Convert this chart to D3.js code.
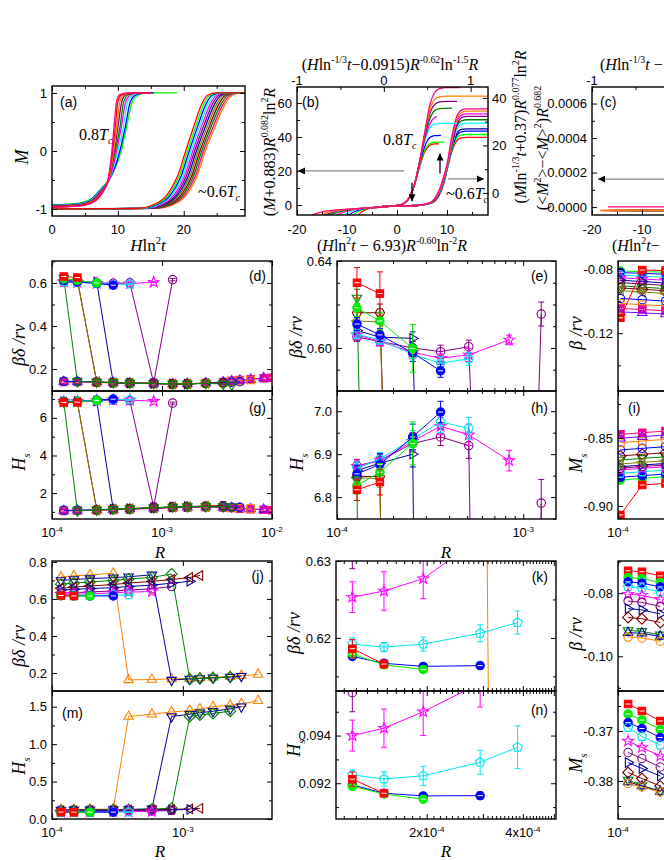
<!DOCTYPE html>
<html><head><meta charset="utf-8"><title>chart</title>
<script src="https://cdn.jsdelivr.net/npm/d3@7/dist/d3.min.js"></script>
<style>html,body{margin:0;padding:0;background:#fff;}svg{display:block;}</style>
</head><body>
<script>
// ===================== DATA =====================
// (a) 0.8Tc family: [H ln^2 t, M] points per curve
const a08Colors=["#ff0080","#ff0000","#ff8000","#800080","#008000","#ff00ff","#00ffff","#0000ff","#00ff00"];
const a08Curves=[
 [[0,-0.97],[4,-0.95],[6,-0.9],[7.5,-0.75],[8.5,-0.5],[9.0,-0.1],[9.4,0.4],[9.8,0.85],[10.3,0.97],[11.5,1],[15,1]],
 [[0,-0.965],[4,-0.945],[6,-0.89],[7.5,-0.73],[8.5,-0.5],[9.1,-0.1],[9.6,0.4],[10.0,0.85],[10.6,0.97],[12,1],[15,1]],
 [[0,-0.96],[4,-0.94],[6,-0.88],[7.5,-0.72],[8.6,-0.5],[9.3,-0.05],[9.8,0.4],[10.3,0.85],[10.9,0.97],[12.3,1],[15,1]],
 [[0,-0.955],[4,-0.935],[6,-0.87],[7.5,-0.7],[8.6,-0.5],[9.4,-0.05],[10.0,0.4],[10.6,0.85],[11.2,0.97],[12.6,1],[15,1]],
 [[0,-0.95],[4,-0.93],[6,-0.86],[7.5,-0.69],[8.6,-0.5],[9.6,0],[10.3,0.4],[10.9,0.85],[11.6,0.97],[13,1],[15,1]],
 [[0,-0.945],[4,-0.92],[6,-0.85],[7.5,-0.67],[8.7,-0.5],[9.8,0],[10.5,0.4],[11.2,0.85],[12.0,0.97],[13.4,1],[15,1]],
 [[0,-0.94],[4,-0.915],[6,-0.84],[7.5,-0.66],[8.7,-0.5],[10.0,0],[10.8,0.4],[11.5,0.85],[12.4,0.97],[13.8,1],[15,1]],
 [[0,-0.935],[4,-0.91],[6,-0.83],[7.5,-0.65],[8.7,-0.5],[10.3,0],[11.1,0.4],[11.9,0.85],[12.8,0.97],[14.2,1],[15.5,1]],
 [[0,-0.93],[4,-0.9],[6,-0.82],[7.5,-0.64],[8.7,-0.48],[10.5,0],[11.3,0.4],[12.2,0.85],[13.2,0.97],[14.6,1],[19,1]]
];
// (a) ~0.6Tc family: shared M levels, H ln^2 t per curve
const a06Levels=[-1,-0.99,-0.93,-0.75,-0.45,0,0.45,0.8,0.96,1,1];
const a06Colors=["#ff0000","#00ff00","#0000ff","#00ffff","#ff00ff","#800080","#0000a0","#808000","#800000","#008000","#ff0080","#ff8000"];
const a06X=[
 [0,13,15.3,17.5,19.0,20.3,21.6,22.7,23.6,25.0,29.3],
 [0,13.27,15.57,17.77,19.27,20.57,21.9,23.02,23.94,25.34,29.3],
 [0,13.54,15.84,18.04,19.54,20.84,22.19,23.35,24.29,25.69,29.3],
 [0,13.81,16.11,18.31,19.81,21.11,22.49,23.67,24.63,26.03,29.3],
 [0,14.08,16.38,18.58,20.08,21.38,22.79,24.0,24.97,26.37,29.3],
 [0,14.35,16.65,18.85,20.35,21.65,23.09,24.32,25.31,26.71,29.3],
 [0,14.62,16.92,19.12,20.62,21.92,23.38,24.64,25.66,27.06,29.3],
 [0,14.89,17.19,19.39,20.89,22.19,23.68,24.97,26.0,27.4,29.3],
 [0,15.16,17.46,19.66,21.16,22.46,23.98,25.29,26.34,27.74,29.3],
 [0,15.43,17.73,19.93,21.43,22.73,24.27,25.62,26.69,28.09,29.3],
 [0,15.7,18.0,20.2,21.7,23.0,24.57,25.94,27.03,28.43,29.3],
 [0,15.97,18.27,20.47,21.97,23.27,24.87,26.26,27.37,28.77,29.3]
];
// (b) 0.8Tc family (left axis)
const b08Colors=["#ff0080","#ff8000","#800080","#008000","#ff00ff","#00ffff","#0000ff","#00ff00","#ff0000"];
const b08Curves=[
 [[-17.5,-6.5],[-15,-4],[-10,-2.5],[-5,-1.6],[0,-0.3],[1.5,1.2],[2.5,4.5],[3.5,12],[4.5,25],[5.5,42],[6.5,58],[7.5,66],[8.5,68.5],[10,69],[12.5,69]],
 [[-16,-6.5],[-13.5,-4],[-9,-2.4],[-5,-1.6],[0,-0.3],[1.5,1.2],[2.5,4.5],[3.5,12],[4.5,25],[5.5,41],[6.5,55],[7.5,62],[8.5,63.6],[10,64],[18.5,64]],
 [[-15,-6.5],[-12.5,-4],[-8.5,-2.3],[-5,-1.6],[0,-0.3],[1.5,1.2],[2.5,4.5],[3.5,12],[4.5,25],[5.5,40],[6.5,53],[7.5,59],[8.5,60.6],[10,61],[12,61]],
 [[-14,-6.5],[-11.5,-4],[-8,-2.2],[-5,-1.6],[0,-0.3],[1.5,1.2],[2.5,4.5],[3.5,12],[4.5,25],[5.5,39],[6.5,50],[7.5,55.5],[8.5,56.7],[11,57]],
 [[-12.5,-6.5],[-10.5,-4],[-7.5,-2.1],[-5,-1.6],[0,-0.3],[1.5,1.2],[2.5,4.5],[3.5,12],[4.5,25],[5.5,38],[6.5,47],[7.3,51],[8,52]],
 [[-11,-6.5],[-9.5,-4],[-7,-2],[-5,-1.6],[0,-0.3],[1.5,1.2],[2.5,4.5],[3.5,12],[4.5,25],[5.5,37],[6.5,45],[7.5,47.6],[9,48],[12,48]],
 [[-10,-6.5],[-8.5,-4],[-6.5,-2],[-5,-1.6],[0,-0.3],[1.5,1.2],[2.5,4.5],[3.5,12],[4.5,24],[5.5,34],[6.5,39.5],[7.5,40.8],[8.8,41]],
 [[-9,-6.5],[-7.8,-4],[-6,-2],[0,-0.3],[1.5,1.2],[2.5,4.5],[3.5,12],[4.5,23],[5.5,32],[6.5,36],[7.5,36.9],[9.5,37]],
 [[-8,-6.5],[-7,-4],[-5.5,-2],[0,-0.3],[1.5,1.2],[2.5,4.5],[3.5,12],[4.5,22],[5.5,31],[6.5,35],[7.5,35.9],[8.4,36]]
];
// (b) ~0.6Tc family (right axis)
const b06Colors=["#ff0080","#ff8000","#ff00ff","#800080","#008000","#00ffff","#0000a0","#0000ff","#00ff00","#ff0000"];
const b06Curves=[
 [[-3,-5.6],[4,-5.3],[6.5,-4.2],[8,-0.8],[9,4.5],[10,12],[11,24],[12,32.5],[13,35],[14,35.4],[18.5,35.4]],
 [[-3,-5.6],[4,-5.3],[6.6,-4.2],[8.1,-0.8],[9.1,4.5],[10.1,12],[11.1,23.5],[12.1,31.8],[13.1,34],[14,34.4],[18.5,34.4]],
 [[-3,-5.6],[4,-5.3],[6.6,-4.2],[8.1,-0.8],[9.1,4.6],[10.1,12.2],[11.1,23],[12.1,30.8],[13,32.9],[14,33.3],[18.5,33.3]],
 [[-3,-5.6],[4,-5.3],[6.7,-4.2],[8.2,-0.8],[9.2,4.6],[10.2,12.3],[11.2,22.5],[12.2,29.8],[13,31.8],[14,32.2],[18.5,32.2]],
 [[-3,-5.6],[4,-5.3],[6.7,-4.2],[8.2,-0.8],[9.2,4.7],[10.2,12.4],[11.1,21.5],[12,28.3],[13,30.4],[14,30.8],[18.5,30.8]],
 [[-3,-5.6],[4,-5.3],[6.8,-4.2],[8.3,-0.8],[9.3,4.7],[10.3,12.5],[11.2,21],[12,27],[12.8,29],[14,29.4],[18.5,29.4]],
 [[-3,-5.6],[4,-5.3],[6.8,-4.2],[8.3,-0.8],[9.3,4.8],[10.3,12.6],[11.1,19.8],[11.9,24.8],[12.7,26.6],[14,27],[18.5,27]],
 [[-3,-5.6],[4,-5.3],[6.9,-4.2],[8.4,-0.8],[9.4,4.8],[10.3,12.5],[11.1,19.4],[11.9,24],[12.7,25.6],[14,26],[18.5,26]],
 [[-3,-5.6],[4,-5.3],[6.9,-4.2],[8.4,-0.8],[9.4,4.9],[10.3,12.6],[11.1,18.8],[11.8,22.6],[12.6,24.2],[14,24.6],[18.5,24.6]],
 [[-3,-5.6],[4,-5.3],[7,-4.2],[8.5,-0.8],[9.5,5],[10.3,12.4],[11.1,18.2],[11.8,21.5],[12.5,23],[14,23.4],[18.5,23.4]]
];
// (c) fluctuation curves near zero
const cColors=["#ff8000","#ff0080","#ff0000","#008000","#00ff00","#00ffff","#0000ff","#ff00ff","#ff0080"];
const cLines=[
 [[-18.4,-0.00002],[18.5,-0.00002]],[[-17.8,-0.00002],[18.5,-0.00002]],[[-16.5,-0.00002],[18.5,-0.00002]],
 [[-15.6,-0.00002],[18.5,-0.00002]],[[-14.6,-0.00002],[18.5,-0.00002]],[[-13.6,-0.00002],[18.5,-0.00002]],
 [[-12.6,-0.00002],[18.5,-0.00002]],[[-11.4,-0.00002],[18.5,-0.00002]],[[-16.8,0.000001],[18.5,0.000001]]
];
// Row 2: R values and series
const row2R=[1.28e-4,1.7e-4,2.55e-4,3.6e-4,5.1e-4,8.4e-4,1.25e-3,1.7e-3,2.5e-3,3.6e-3,4.3e-3,5.1e-3,6.4e-3,8.4e-3,1e-2];
const row2Series=["pink","violet","orange","blueO","navyR","wineH","oliveL","dkgreenD","purple","magenta","cyan","blue","green","red"];
const row2BD=[
 [0.140,0.140,0.138,0.136,0.134,0.132,0.130,0.131,0.135,0.140,0.145,0.149,0.153,0.157,0.160],
 [0.141,0.141,0.139,0.136,0.135,0.133,0.131,0.132,0.135,0.140,0.144,0.148,0.152,0.158],
 [0.142,0.141,0.139,0.137,0.135,0.133,0.131,0.131,0.134,0.138,0.141,0.145,0.149],
 [0.143,0.142,0.140,0.137,0.135,0.133,0.131,0.131,0.134,0.137,0.139,0.141],
 [0.608,0.605,0.6044,0.137,0.135,0.133,0.131,0.130],
 [0.6162,0.6162,0.140,0.137,0.135,0.133,0.131,0.131,0.134,0.135],
 [0.6124,0.6120,0.141,0.137,0.135,0.133,0.131,0.131,0.134],
 [0.623,0.142,0.140,0.137,0.135,0.133,0.131,0.130,0.133,0.131,0.126],
 [0.605,0.603,0.600,0.5983,0.6006,0.135,0.6156],
 [0.606,0.603,0.598,0.5953,0.5968,0.6037],
 [0.6063,0.6037,0.597,0.593,0.595],
 [0.611,0.606,0.5977,0.5895],
 [0.6185,0.6124,0.5998],
 [0.630,0.625]
];
const row2BDerr=[[],[],[],[],[0.003,0.003,0.003],[0.004,0.004],[0.004,0.004],[0.004],
 [0.002,0.002,0.003,0.003,0.003,null,0.0055],[0.002,0.002,0.003,0.002,0.003,0.0022],
 [0.002,0.002,0.003,0.003,0.003],[0.003,0.003,0.004,0.003],[0.004,0.004,0.011],[0.007,0.01]];
const row2HS=[
 [1.05,1.06,1.08,1.11,1.14,1.18,1.22,1.24,1.25,1.23,1.20,1.17,1.14,1.11,1.09],
 [1.06,1.07,1.09,1.12,1.15,1.19,1.23,1.25,1.26,1.24,1.21,1.18,1.15,1.13],
 [1.07,1.08,1.10,1.13,1.16,1.20,1.24,1.26,1.27,1.25,1.22,1.20,1.18],
 [1.08,1.09,1.11,1.14,1.17,1.21,1.25,1.27,1.28,1.27,1.25,1.24],
 [6.862,6.879,6.90,1.14,1.17,1.22,1.26,1.29],
 [6.848,6.848,1.11,1.14,1.17,1.21,1.26,1.28,1.31,1.34],
 [6.845,6.843,1.10,1.14,1.17,1.21,1.26,1.28,1.30],
 [6.840,1.06,1.10,1.14,1.17,1.22,1.26,1.28,1.29,1.28,1.27],
 [6.873,6.885,6.925,6.94,6.92,1.27,6.786],
 [6.871,6.885,6.93,6.965,6.945,6.885],
 [6.867,6.889,6.935,6.975,6.96],
 [6.854,6.876,6.94,6.998],
 [6.827,6.858,6.925],
 [6.817,6.835]
];
const row2HSerr=[[],[],[],[],[0.02,0.02,0.03],[0.02,0.02],[0.02,0.02],[0.03],
 [0.015,0.015,0.02,0.02,0.03,null,0.055],[0.015,0.015,0.02,0.02,0.025,0.024],
 [0.015,0.015,0.02,0.025,0.025],[0.02,0.025,0.03,0.025],[0.02,0.02,0.05],[0.025,0.03]];
// Row 3
const row3R=[1.17e-4,1.47e-4,1.95e-4,2.94e-4,3.85e-4,5.8e-4,8.2e-4,1.13e-3,1.35e-3,1.7e-3,2.3e-3,2.8e-3,3.76e-3];
const row3Series=["orangeU","navyD","dkgreenDi","wineL","navyR","purple","magenta","cyan","blue","green","red"];
const row3BD=[
 [0.719,0.725,0.730,0.739,0.163,0.165,0.168,0.171,0.174,0.177,0.182,0.186,0.192],
 [0.700,0.705,0.710,0.715,0.720,0.730,0.162,0.168,0.171,0.174,0.178,0.183],
 [0.680,0.686,0.692,0.700,0.708,0.716,0.735,0.166,0.170,0.174,0.178],
 [0.658,0.664,0.670,0.678,0.686,0.695,0.705,0.716,0.727],
 [0.649,0.652,0.656,0.661,0.667,0.675,0.685,0.695],
 [0.631,0.634,0.638,0.643,0.648,0.655,0.667],
 [0.6253,0.6261,0.6277,0.6330,0.6370,0.6400],
 [0.6192,0.6188,0.6192,0.6206,0.6220],
 [0.6176,0.6167,0.6163,0.6164],
 [0.6179,0.6165,0.6159],
 [0.6186,0.6166]
];
const row3BDerr=[[],[],[],[],[],[0.002],[0.002,0.0025,0.0026,0.003],[0.0008,0.0006,0.0009,0.0011,0.0015],[0.0004,0.0003,0.0003,0.0004],[0.0005,0.0004,0.0003],[0.0012,0.0005]];
const row3HS=[
 [0.125,0.127,0.130,0.133,1.37,1.40,1.43,1.45,1.47,1.50,1.52,1.54,1.58],
 [0.120,0.122,0.124,0.126,0.128,0.135,1.37,1.40,1.42,1.44,1.47,1.50],
 [0.115,0.117,0.120,0.123,0.126,0.131,0.145,1.37,1.39,1.41,1.44],
 [0.110,0.112,0.115,0.118,0.121,0.125,0.129,0.135,0.142],
 [0.105,0.107,0.109,0.112,0.115,0.118,0.122,0.128],
 [0.0958,0.098,0.100,0.103,0.106,0.108,0.112],
 [0.0940,0.09431,0.0950,0.0962,0.098,0.100],
 [0.09235,0.09218,0.09231,0.09288,0.09351],
 [0.09193,0.09158,0.09147,0.09148],
 [0.09187,0.09155,0.09133],
 [0.09217,0.09158]
];
const row3HSerr=[[],[],[],[],[],[0.0008],[0.00065,0.0008,0.001,0.001],[0.0002,0.0003,0.0004,0.0005,0.0009],[0.0001,0.0001,0.0001,0.00015],[0.00012,0.0001,0.0001],[0.0003,0.00012]];
// (f)/(i)
const fR=[1.03e-4,1.35e-4,1.8e-4];
const fSeries=["green","blue","cyan","magenta","navyR","purple","dkgreenD","wineD","oliveL","blueO","orange","pink","violet","red"];
const fBeta=[
 [-0.0813,-0.0816,-0.0820],[-0.0822,-0.0827,-0.0832],[-0.0838,-0.0845,-0.0852],[-0.0855,-0.0862,-0.0870],
 [-0.0870,-0.0878,-0.0887],[-0.0885,-0.0893,-0.0902],[-0.0905,-0.0913,-0.0922],[-0.0918,-0.0926,-0.0935],
 [-0.0935,-0.0943,-0.0952],[-0.0983,-0.0991,-0.1000],[-0.1015,-0.1022,-0.1030],[-0.1046,-0.1052,-0.1060],
 [-0.1067,-0.1073,-0.1080],[-0.1104,-0.0806,-0.0810]
];
const fMs=[
 [-0.8809,-0.8797,-0.8785],[-0.8789,-0.8777,-0.8765],[-0.8760,-0.8748,-0.8736],[-0.8735,-0.8723,-0.8711],
 [-0.8711,-0.8699,-0.8687],[-0.8722,-0.8710,-0.8698],[-0.8662,-0.8650,-0.8638],[-0.8632,-0.8620,-0.8608],
 [-0.8691,-0.8679,-0.8667],[-0.8588,-0.8576,-0.8564],[-0.8534,-0.8522,-0.8510],[-0.8473,-0.8461,-0.8449],
 [-0.8502,-0.8490,-0.8478],[-0.9066,-0.8846,-0.8834]
];
// (l)/(o)
const lR=[1.08e-4,1.2e-4,1.38e-4];
const lSeries=["red","green","blue","cyan","magenta","purple","navyR","wineD","dkgreenD","navyU","orangeO"];
const lBeta=[
 [-0.0729,-0.0732,-0.0745],[-0.0750,-0.0754,-0.0766],[-0.0764,-0.0768,-0.0780],[-0.0780,-0.0784,-0.0796],
 [-0.0803,-0.0807,-0.0820],[-0.0825,-0.0829,-0.0842],[-0.0849,-0.0853,-0.0866],[-0.0877,-0.0881,-0.0893],
 [-0.0918,-0.0921,-0.0932],[-0.0925,-0.0927,-0.0937],[-0.0939,-0.0942,-0.0952]
];
const lMs=[
 [-0.3646,-0.3660,-0.3680],[-0.3666,-0.3678,-0.3697],[-0.3683,-0.3695,-0.3713],[-0.3693,-0.3711,-0.3728],
 [-0.3720,-0.3733,-0.3750],[-0.3743,-0.3755,-0.3772],[-0.3763,-0.3775,-0.3790],[-0.3783,-0.3795,-0.3810],
 [-0.3798,-0.3809,-0.3820],[-0.3802,-0.3810,-0.3821],[-0.3805,-0.3812,-0.3822]
];

// ===================== STYLES =====================
const STYLE={
 red:{c:"#ff0000",s:"sq",f:1}, green:{c:"#00ee00",s:"ci",f:1}, blue:{c:"#0000ff",s:"ci",f:1},
 cyan:{c:"#00e5ee",s:"pe",f:0}, magenta:{c:"#ff00ff",s:"st",f:0}, purple:{c:"#800080",s:"ci",f:0},
 navyR:{c:"#0000a0",s:"tr",f:0}, wineH:{c:"#800000",s:"hx",f:0}, wineD:{c:"#800000",s:"di",f:0},
 oliveL:{c:"#808000",s:"tl",f:0}, dkgreenD:{c:"#008000",s:"td",f:0}, blueO:{c:"#0000ff",s:"ci",f:0},
 orange:{c:"#ff8000",s:"sq",f:0}, violet:{c:"#8000ff",s:"tu",f:0}, pink:{c:"#ff0080",s:"sq",f:1},
 orangeU:{c:"#ff8000",s:"tu",f:0}, navyD:{c:"#0000a0",s:"td",f:0}, dkgreenDi:{c:"#008000",s:"di",f:0},
 wineL:{c:"#800000",s:"tl",f:0}, navyU:{c:"#0000a0",s:"tu",f:0}, orangeO:{c:"#ff8000",s:"ci",f:0}
};
const SERIF='"Liberation Serif","Times New Roman",Times,serif';
const SANS='"Liberation Sans",Arial,Helvetica,sans-serif';
const TICKFS=13;

// ===================== HELPERS =====================
const svg=d3.select("body").append("svg").attr("width",664).attr("height",860);
svg.append("rect").attr("width",664).attr("height",860).attr("fill","#fff");
const defs=svg.append("defs");
defs.append("marker").attr("id","ah").attr("viewBox","0 0 10 10").attr("refX",10).attr("refY",5)
 .attr("markerWidth",9).attr("markerHeight",7).attr("markerUnits","userSpaceOnUse").attr("orient","auto")
 .append("path").attr("d","M0,0L10,5L0,10Z").attr("fill","#000");
let clipN=0;
function mkPanel(x0,x1,y0,y1){
  const id="cp"+(clipN++);
  defs.append("clipPath").attr("id",id).append("rect").attr("x",x0).attr("y",y0).attr("width",x1-x0).attr("height",y1-y0);
  const g=svg.append("g");
  return {g,plot:g.append("g").attr("clip-path",`url(#${id})`),x0,x1,y0,y1};
}
function inRange(scale,v){const r=scale.range();const p=scale(v);return p>=Math.min(r[0],r[1])-0.5&&p<=Math.max(r[0],r[1])+0.5;}
function tk(g,scale,side,pos,vals,len){
  vals=(vals||[]).filter(v=>inRange(scale,v));
  if(!vals.length)return;
  const ax={left:d3.axisLeft,right:d3.axisRight,top:d3.axisTop,bottom:d3.axisBottom}[side](scale)
    .tickValues(vals).tickSizeInner(-len).tickSizeOuter(0).tickFormat("");
  const t=g.append("g").attr("transform",(side==="left"||side==="right")?`translate(${pos},0)`:`translate(0,${pos})`).call(ax);
  t.select(".domain").remove();t.selectAll("text").remove();
  t.selectAll("line").attr("stroke","#000").attr("stroke-width",1);
}
function axesFrame(P,xs,ys,xMaj,xMin,yMaj,yMin,ysR){
  ["bottom","top"].forEach(s=>{const pos=s==="bottom"?P.y1:P.y0;tk(P.g,xs,s,pos,xMaj,5);tk(P.g,xs,s,pos,xMin,3);});
  tk(P.g,ys,"left",P.x0,yMaj,5);tk(P.g,ys,"left",P.x0,yMin,3);
  if(!ysR){tk(P.g,ys,"right",P.x1,yMaj,5);tk(P.g,ys,"right",P.x1,yMin,3);}
  P.g.append("rect").attr("x",P.x0).attr("y",P.y0).attr("width",P.x1-P.x0).attr("height",P.y1-P.y0)
   .attr("fill","none").attr("stroke","#000").attr("stroke-width",1.4);
}
function rich(parent,x,y,segs,o={}){
  const fs=o.size||16;
  const t=parent.append("text").attr("x",x).attr("y",y).attr("font-size",fs).attr("font-family",o.fam||SERIF)
    .attr("text-anchor",o.anchor||"middle").attr("fill","#000");
  if(o.rot)t.attr("transform",`rotate(-90,${x},${y})`);
  const off=l=>l===1?-0.42*fs:(l===-1?0.25*fs:0);
  let lv=0;
  segs.forEach(([txt,fl=""])=>{
    const nl=fl.includes("^")?1:(fl.includes("_")?-1:0);
    const sp=t.append("tspan").text(txt);
    const dy=off(nl)-off(lv);if(dy)sp.attr("dy",dy);
    if(nl)sp.attr("font-size",fs*0.62);
    if(fl.includes("i"))sp.attr("font-style","italic");
    lv=nl;
  });
  return t;
}
function yLab(P,ys,vals,fmt,side){
  side=side||"left";
  vals.forEach(v=>P.g.append("text").attr("x",side==="left"?P.x0-5:P.x1+4).attr("y",ys(v)+4.6)
    .attr("text-anchor",side==="left"?"end":"start").attr("font-family",SANS).attr("font-size",TICKFS).text(fmt(v)));
}
function xLab(P,xs,vals,fmt,y){
  vals.forEach(v=>P.g.append("text").attr("x",xs(v)).attr("y",y).attr("text-anchor","middle")
    .attr("font-family",SANS).attr("font-size",TICKFS).text(fmt(v)));
}
function xLogLab(P,xs,vals,y){
  vals.forEach(v=>{const e=Math.floor(Math.log10(v)+1e-9);const m=Math.round(v/Math.pow(10,e));
    rich(P.g,xs(v),y,[[(m>1?m+"x":"")+"10",""],[String(e),"^"]],{fam:SANS,size:13});});
}
function panelTag(P,x,y,txt,anchor){P.g.append("text").attr("x",x).attr("y",y).attr("font-family",SANS).attr("font-size",14).attr("text-anchor",anchor||"start").text(txt);}
function shapeD(t,r){
  const poly=(n,R,rot)=>{let s="";for(let k=0;k<n;k++){const a=(rot+360*k/n)*Math.PI/180;s+=(k?"L":"M")+(R*Math.cos(a)).toFixed(2)+","+(R*Math.sin(a)).toFixed(2);}return s+"Z";};
  switch(t){
    case "ci":return d3.symbol(d3.symbolCircle,Math.PI*r*r)();
    case "sq":return poly(4,r*1.25,45);
    case "di":return poly(4,r*1.3,-90);
    case "tu":return poly(3,r*1.3,-90);
    case "td":return poly(3,r*1.3,90);
    case "tl":return poly(3,r*1.3,180);
    case "tr":return poly(3,r*1.3,0);
    case "hx":return poly(6,r*1.1,0);
    case "pe":return poly(5,r*1.15,-90);
    case "st":{let s="";for(let k=0;k<10;k++){const a=(-90+36*k)*Math.PI/180;const R=k%2?r*0.55:r*1.35;s+=(k?"L":"M")+(R*Math.cos(a)).toFixed(2)+","+(R*Math.sin(a)).toFixed(2);}return s+"Z";}
  }
}
function drawSeries(P,xs,ys,R,vals,errs,st){
  const pts=[];vals.forEach((v,i)=>{if(v!=null)pts.push([R[i],v,(errs&&errs[i]!=null)?errs[i]:0]);});
  P.plot.append("path").attr("d",d3.line().x(d=>xs(d[0])).y(d=>ys(d[1]))(pts)).attr("fill","none").attr("stroke",st.c).attr("stroke-width",1);
  pts.forEach(d=>{if(d[2]>0){const X=xs(d[0]),a=ys(d[1]-d[2]),b=ys(d[1]+d[2]);
    P.plot.append("path").attr("d",`M${X},${a}V${b}M${X-3},${a}H${X+3}M${X-3},${b}H${X+3}`).attr("stroke",st.c).attr("stroke-width",1).attr("fill","none");}});
  pts.forEach(d=>{const X=xs(d[0]),Y=ys(d[1]);
    P.plot.append("path").attr("transform",`translate(${X},${Y})`).attr("d",shapeD(st.s,4.2))
      .attr("fill",st.f?st.c:"none").attr("stroke",st.c).attr("stroke-width",1.1);
    if(st.f)P.plot.append("path").attr("d",`M${X-2.6},${Y}H${X+2.6}`).attr("stroke","#fff").attr("stroke-width",1);});
}
function arrow(g,x1,y1,x2,y2,col){g.append("line").attr("x1",x1).attr("y1",y1).attr("x2",x2).attr("y2",y2).attr("stroke",col).attr("stroke-width",1.3).attr("marker-end","url(#ah)");}
const ylabBD=[["β","i"],["δ ","i"],["/","i"],["r","i"],["ν","i"]];
const ylabB=[["β ","i"],["/","i"],["r","i"],["ν","i"]];
const ylabH=[["H","i"],["s","i_"]];
const ylabM=[["M","i"],["s","i_"]];
const logMinor=[2e-4,3e-4,4e-4,5e-4,6e-4,7e-4,8e-4,9e-4,2e-3,3e-3];

// ===================== PANEL (a) =====================
{
 const P=mkPanel(52,245,86,216);
 const xs=d3.scaleLinear().domain([0,29.3]).range([52,245]);
 const ys=d3.scaleLinear().domain([-1.12,1.12]).range([216,86]);
 const ln=d3.line().x(d=>xs(d[0])).y(d=>ys(d[1])).curve(d3.curveMonotoneX);
 for(let i=a06X.length-1;i>=0;i--){
   const pts=a06X[i].map((x,k)=>[x,a06Levels[k]]);
   P.plot.append("path").attr("d",ln(pts)).attr("fill","none").attr("stroke",a06Colors[i]).attr("stroke-width",1.3);
 }
 for(let i=a08Curves.length-1;i>=0;i--){
   P.plot.append("path").attr("d",ln(a08Curves[i])).attr("fill","none").attr("stroke",a08Colors[i]).attr("stroke-width",1.3);
 }
 axesFrame(P,xs,ys,[0,10,20],[5,15,25],[-1,0,1],[-0.5,0.5]);
 yLab(P,ys,[-1,0,1],d=>String(d));
 xLab(P,xs,[0,10,20],d=>String(d),234);
 rich(svg,148,251,[["H","i"],["ln",""],["2","^"],["t","i"]],{size:17});
 rich(svg,28,157,[["M","i"]],{size:18,rot:true});
 panelTag(P,60,107,"(a)");
 rich(P.g,79,140,[["0.8",""],["T","i"],["c","i_"]],{size:16,anchor:"start"});
 rich(P.g,198,197,[["~0.6",""],["T","i"],["c","i_"]],{size:16,anchor:"start"});
}

// ===================== PANEL (b) =====================
{
 const P=mkPanel(297,488,87,215);
 const xs=d3.scaleLinear().domain([-20,18.2]).range([297,488]);
 const xt=d3.scaleLinear().domain([-1,1.2]).range([297,488]);
 const yl=d3.scaleLinear().domain([-5.9,69.4]).range([215,87]);
 const yr=d3.scaleLinear().domain([-9.3,44.6]).range([215,87]);
 const lnL=d3.line().x(d=>xs(d[0])).y(d=>yl(d[1])).curve(d3.curveMonotoneX);
 const lnR=d3.line().x(d=>xs(d[0])).y(d=>yr(d[1])).curve(d3.curveMonotoneX);
 for(let i=b06Curves.length-1;i>=0;i--)P.plot.append("path").attr("d",lnR(b06Curves[i])).attr("fill","none").attr("stroke",b06Colors[i]).attr("stroke-width",1.3);
 for(let i=b08Curves.length-1;i>=0;i--)P.plot.append("path").attr("d",lnL(b08Curves[i])).attr("fill","none").attr("stroke",b08Colors[i]).attr("stroke-width",1.3);
 tk(P.g,xs,"bottom",P.y1,[-20,-10,0,10],5);tk(P.g,xs,"bottom",P.y1,[-15,-5,5,15],3);
 tk(P.g,xt,"top",P.y0,[-1,0,1],5);tk(P.g,xt,"top",P.y0,[-0.5,0.5],3);
 tk(P.g,yl,"left",P.x0,[0,20,40,60],5);tk(P.g,yl,"left",P.x0,[10,30,50],3);
 tk(P.g,yr,"right",P.x1,[0,20,40],5);tk(P.g,yr,"right",P.x1,[10,30],3);
 P.g.append("rect").attr("x",P.x0).attr("y",P.y0).attr("width",P.x1-P.x0).attr("height",P.y1-P.y0).attr("fill","none").attr("stroke","#000").attr("stroke-width",1.4);
 yLab(P,yl,[0,20,40,60],d=>String(d));
 yLab(P,yr,[0,20,40],d=>String(d),"right");
 xLab(P,xs,[-20,-10,0,10],d=>String(d),234);
 xLab(P,xt,[-1,0,1],d=>String(d),85);
 arrow(P.g,xs(1.4),yl(20),xs(-20)+1,yl(20),"#888");
 arrow(P.g,xs(10.2),yr(5.9),xs(17.4),yr(5.9),"#888");
 arrow(P.g,xs(3),yl(13),xs(3),yl(2.2),"#000");
 arrow(P.g,xs(8.6),yr(8.2),xs(8.6),yr(16.6),"#000");
 panelTag(P,302,107,"(b)");
 rich(P.g,383,145,[["0.8",""],["T","i"],["c","i_"]],{size:16,anchor:"start"});
 rich(P.g,446,199,[["~0.6",""],["T","i"],["c","i_"]],{size:16,anchor:"start"});
 rich(svg,390,70,[["(",""],["H","i"],["ln",""],["-1/3","^"],["t","i"],["−0.0915)",""],["R","i"],["-0.62","^"],["ln",""],["-1.5","^"],["R","i"]],{size:16});
 rich(svg,392,251,[["(",""],["H","i"],["ln",""],["2","^"],["t","i"],[" − 6.93)",""],["R","i"],["-0.60","^"],["ln",""],["-2","^"],["R","i"]],{size:16});
 rich(svg,275,152,[["(",""],["M","i"],["+0.883)",""],["R","i"],["0.082","^"],["ln",""],["2","^"],["R","i"]],{size:16,rot:true});
 rich(svg,526,127,[["(",""],["M","i"],["ln",""],["-1/3","^"],["t","i"],["+0.37)",""],["R","i"],["0.077","^"],["ln",""],["2","^"],["R","i"]],{size:16,rot:true});
}

// ===================== PANEL (c) =====================
{
 const P=mkPanel(592,783,87,215);
 const xs=d3.scaleLinear().domain([-20,18.2]).range([592,783]);
 const xt=d3.scaleLinear().domain([-1,1.2]).range([592,783]);
 const ys=d3.scaleLinear().domain([-0.000046,0.000696]).range([215,87]);
 const ln=d3.line().x(d=>xs(d[0])).y(d=>ys(d[1]));
 for(let i=cLines.length-1;i>=0;i--)P.plot.append("path").attr("d",ln(cLines[i])).attr("fill","none").attr("stroke",cColors[i]).attr("stroke-width",1.3);
 tk(P.g,xs,"bottom",P.y1,[-20,-10,0,10],5);tk(P.g,xs,"bottom",P.y1,[-15,-5,5,15],3);
 tk(P.g,xt,"top",P.y0,[-1,0,1],5);tk(P.g,xt,"top",P.y0,[-0.5,0.5],3);
 tk(P.g,ys,"left",P.x0,[0,0.0002,0.0004,0.0006],5);tk(P.g,ys,"left",P.x0,[0.0001,0.0003,0.0005],3);
 P.g.append("rect").attr("x",P.x0).attr("y",P.y0).attr("width",P.x1-P.x0).attr("height",P.y1-P.y0).attr("fill","none").attr("stroke","#000").attr("stroke-width",1.4);
 yLab(P,ys,[0,0.0002,0.0004,0.0006],d=>d.toFixed(4));
 xLab(P,xs,[-20,-10],d=>String(d),234);
 xLab(P,xt,[-1],d=>String(d),85);
 arrow(P.g,xs(18),ys(0.000162),xs(-18.8),ys(0.000162),"#888");
 panelTag(P,600,107,"(c)");
 rich(svg,600,70,[["(",""],["H","i"],["ln",""],["-1/3","^"],["t","i"],[" −",""]],{size:16,anchor:"start"});
 rich(svg,612,251,[["(",""],["H","i"],["ln",""],["2","^"],["t","i"],["−",""]],{size:16,anchor:"start"});
 rich(svg,548,148,[["(<",""],["M","i"],["2","^"],[">−<",""],["M","i"],[">",""],["2","^"],[")",""],["R","i"],["0.682","^"]],{size:16,rot:true});
}

// ===================== ROW 2: (d)(g) (e)(h) (f)(i) =====================
{
 const Pd=mkPanel(52,272,261,391),Pg=mkPanel(52,272,391,519);
 const xs=d3.scaleLog().domain([1e-4,1e-2]).range([52,272]);
 const yd=d3.scaleLinear().domain([0.098,0.702]).range([391,261]);
 const yg=d3.scaleLinear().domain([0.62,7.43]).range([519,391]);
 row2Series.forEach((nm,i)=>{drawSeries(Pd,xs,yd,row2R,row2BD[i],row2BDerr[i],STYLE[nm]);drawSeries(Pg,xs,yg,row2R,row2HS[i],row2HSerr[i],STYLE[nm]);});
 axesFrame(Pd,xs,yd,[1e-4,1e-3,1e-2],[],[0.2,0.4,0.6],[0.1,0.3,0.5,0.7]);
 axesFrame(Pg,xs,yg,[1e-4,1e-3,1e-2],[],[2,4,6],[1,3,5,7]);
 yLab(Pd,yd,[0.2,0.4,0.6],d=>d.toFixed(1));
 yLab(Pg,yg,[2,4,6],d=>String(d));
 xLogLab(Pg,xs,[1e-4,1e-3,1e-2],537);
 rich(svg,25,345,ylabBD,{size:18,rot:true});
 rich(svg,25,462,ylabH,{size:18,rot:true});
 rich(svg,160,558,[["R","i"]],{size:17});
 panelTag(Pd,266,281,"(d)","end");panelTag(Pg,266,413,"(g)","end");
}
{
 const Pe=mkPanel(337,556,261,391),Ph=mkPanel(337,556,391,519);
 const xs=d3.scaleLog().domain([1e-4,1.5e-3]).range([337,556]);
 const ye=d3.scaleLinear().domain([0.5802,0.64]).range([391,261]);
 const yh=d3.scaleLinear().domain([6.749,7.047]).range([519,391]);
 row2Series.forEach((nm,i)=>{drawSeries(Pe,xs,ye,row2R,row2BD[i],row2BDerr[i],STYLE[nm]);drawSeries(Ph,xs,yh,row2R,row2HS[i],row2HSerr[i],STYLE[nm]);});
 axesFrame(Pe,xs,ye,[1e-4,1e-3],logMinor,[0.60,0.64],[0.59,0.61,0.62,0.63]);
 axesFrame(Ph,xs,yh,[1e-4,1e-3],logMinor,[6.8,6.9,7.0],[6.75,6.85,6.95]);
 yLab(Pe,ye,[0.60,0.64],d=>d.toFixed(2));
 yLab(Ph,yh,[6.8,6.9,7.0],d=>d.toFixed(1));
 xLogLab(Ph,xs,[1e-4,1e-3],537);
 rich(svg,302,337,ylabBD,{size:18,rot:true});
 rich(svg,303,462,ylabH,{size:18,rot:true});
 rich(svg,446,558,[["R","i"]],{size:17});
 panelTag(Pe,548,281,"(e)","end");panelTag(Ph,548,413,"(h)","end");
}
{
 const Pf=mkPanel(618,838,261,391),Pi=mkPanel(618,838,391,519);
 const xs=d3.scaleLog().domain([1e-4,1.52e-3]).range([618,838]);
 const yf=d3.scaleLinear().domain([-0.156,-0.075]).range([391,261]);
 const yi=d3.scaleLinear().domain([-0.9096,-0.8154]).range([519,391]);
 fSeries.forEach((nm,i)=>{drawSeries(Pf,xs,yf,fR,fBeta[i],null,STYLE[nm]);drawSeries(Pi,xs,yi,fR,fMs[i],null,STYLE[nm]);});
 axesFrame(Pf,xs,yf,[1e-4,1e-3],logMinor,[-0.12,-0.08],[-0.14,-0.10]);
 axesFrame(Pi,xs,yi,[1e-4,1e-3],logMinor,[-0.90,-0.85],[-0.875,-0.825]);
 yLab(Pf,yf,[-0.12,-0.08],d=>d.toFixed(2));
 yLab(Pi,yi,[-0.90,-0.85],d=>d.toFixed(2));
 xLogLab(Pi,xs,[1e-4],537);
 rich(svg,582,333,ylabB,{size:18,rot:true});
 rich(svg,582,463,ylabM,{size:18,rot:true});
 panelTag(Pi,628,413,"(i)");
}

// ===================== ROW 3: (j)(m) (k)(n) (l)(o) =====================
{
 const Pj=mkPanel(52,272,561,691),Pm=mkPanel(52,272,691,819);
 const xs=d3.scaleLog().domain([1e-4,4.8e-3]).range([52,272]);
 const yj=d3.scaleLinear().domain([0.103,0.805]).range([691,561]);
 const ym=d3.scaleLinear().domain([0,1.71]).range([819,691]);
 row3Series.forEach((nm,i)=>{drawSeries(Pj,xs,yj,row3R,row3BD[i],row3BDerr[i],STYLE[nm]);drawSeries(Pm,xs,ym,row3R,row3HS[i],row3HSerr[i],STYLE[nm]);});
 axesFrame(Pj,xs,yj,[1e-4,1e-3],[],[0.2,0.4,0.6,0.8],[0.3,0.5,0.7]);
 axesFrame(Pm,xs,ym,[1e-4,1e-3],[],[0,0.5,1.0,1.5],[0.25,0.75,1.25]);
 yLab(Pj,yj,[0.2,0.4,0.6,0.8],d=>d.toFixed(1));
 yLab(Pm,ym,[0,0.5,1.0,1.5],d=>d.toFixed(1));
 xLogLab(Pm,xs,[1e-4,1e-3],837);
 rich(svg,25,646,ylabBD,{size:18,rot:true});
 rich(svg,25,766,ylabH,{size:18,rot:true});
 rich(svg,160,857,[["R","i"]],{size:17});
 panelTag(Pj,264,581,"(j)","end");panelTag(Pm,62,718,"(m)");
}
{
 const Pk=mkPanel(336,556,561,691),Pn=mkPanel(336,556,691,819);
 const xs=d3.scaleLog().domain([1.04e-4,5.08e-4]).range([336,556]);
 const yk=d3.scaleLinear().domain([0.6131,0.63]).range([691,561]);
 const yn=d3.scaleLinear().domain([0.0905,0.09587]).range([819,691]);
 row3Series.forEach((nm,i)=>{drawSeries(Pk,xs,yk,row3R,row3BD[i],row3BDerr[i],STYLE[nm]);drawSeries(Pn,xs,yn,row3R,row3HS[i],row3HSerr[i],STYLE[nm]);});
 const kMaj=[2e-4,3e-4,4e-4,5e-4];
 const kMin=d3.range(11,51).filter(k=>k%10!==0).map(k=>k*1e-5);
 axesFrame(Pk,xs,yk,kMaj,kMin,[0.62,0.63],[0.615,0.625]);
 axesFrame(Pn,xs,yn,kMaj,kMin,[0.092,0.094],[0.091,0.093,0.095]);
 yLab(Pk,yk,[0.62,0.63],d=>d.toFixed(2));
 yLab(Pn,yn,[0.092,0.094],d=>d.toFixed(3));
 xLogLab(Pn,xs,[2e-4,4e-4],837);
 rich(svg,300,633,ylabBD,{size:18,rot:true});
 rich(svg,300,748,ylabH,{size:18,rot:true});
 rich(svg,446,857,[["R","i"]],{size:17});
 panelTag(Pk,548,582,"(k)","end");panelTag(Pn,548,715,"(n)","end");
}
{
 const Pl=mkPanel(618,838,561,691),Po=mkPanel(618,838,691,819);
 const xs=d3.scaleLog().domain([1e-4,5.35e-4]).range([618,838]);
 const yl=d3.scaleLinear().domain([-0.111,-0.0698]).range([691,561]);
 const yo=d3.scaleLinear().domain([-0.3876,-0.362]).range([819,691]);
 lSeries.forEach((nm,i)=>{drawSeries(Pl,xs,yl,lR,lBeta[i],null,STYLE[nm]);drawSeries(Po,xs,yo,lR,lMs[i],null,STYLE[nm]);});
 axesFrame(Pl,xs,yl,[1e-4,2e-4],[],[-0.10,-0.08],[-0.11,-0.09,-0.07]);
 axesFrame(Po,xs,yo,[1e-4,2e-4],[],[-0.38,-0.37],[-0.385,-0.375,-0.365]);
 yLab(Pl,yl,[-0.10,-0.08],d=>d.toFixed(2));
 yLab(Po,yo,[-0.38,-0.37],d=>d.toFixed(2));
 xLogLab(Po,xs,[1e-4],837);
 rich(svg,582,634,ylabB,{size:18,rot:true});
 rich(svg,582,763,ylabM,{size:18,rot:true});
}
</script></body></html>
